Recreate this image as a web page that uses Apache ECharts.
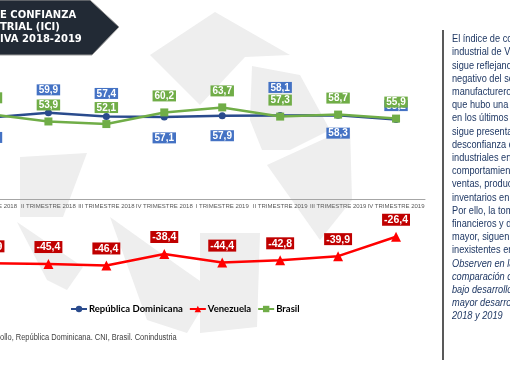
<!DOCTYPE html>
<html>
<head>
<meta charset="utf-8">
<script src="https://cdn.jsdelivr.net/npm/echarts@6/dist/echarts.min.js"></script>
<style>
  html, body { margin: 0; padding: 0; background: #fff; overflow: hidden; }
  #wrap { position: relative; width: 510px; height: 382px; overflow: hidden; }
  /* chart starts left of the window: the first quarter is cut off as in the slide */
  #chart { position: absolute; left: -39px; top: 0; width: 549px; height: 382px; }
</style>
</head>
<body>
<div id="wrap"><div id="chart"></div></div>
<script>
const quarters = ['I TRIMESTRE 2018', 'II TRIMESTRE 2018', 'III TRIMESTRE 2018', 'IV TRIMESTRE 2018',
    'I TRIMESTRE 2019', 'II TRIMESTRE 2019', 'III TRIMESTRE 2019', 'IV TRIMESTRE 2019']
const dominicana = [56.7, 59.9, 57.4, 57.1, 57.9, 58.1, 58.3, 55.2]
const venezuela = [-44.9, -45.4, -46.4, -38.4, -44.4, -42.8, -39.9, -26.4]
const brasil = [58.9, 53.9, 52.1, 60.2, 63.7, 57.3, 58.7, 55.9]

// where each blue label sits (above / below the point)
const rdLabelPos = ['bottom', 'top', 'top', 'bottom', 'bottom', 'top', 'bottom', 'top']
const rdLabelDist = [11, 14, 14, 12, 11, 19, 9, 5]

const sideText = [
    'El índice de confianza',
    'industrial de Venezuela',
    'sigue reflejando un saldo',
    'negativo del sector',
    'manufacturero, a pesar de',
    'que hubo una mejora',
    'en los últimos trimestres,',
    'sigue presentando',
    'desconfianza de los',
    'industriales en el',
    'comportamiento de las',
    'ventas, producción e',
    'inventarios en el país.',
    'Por ello, la toma de',
    'financieros y de',
    'mayor, siguen siendo',
    'inexistentes en el país.'
]
const sideItalic = [
    'Observen en la',
    'comparación con',
    'bajo desarrollo y',
    'mayor desarrollo',
    '2018 y 2019'
]

const OX = 39  // window x -> chart x
const fmt = v => v.toFixed(1).replace('.', ',')

function boxLabel(bg) {
    return {
        show: true,
        formatter: p => fmt(p.value),
        color: '#fff',
        fontWeight: 'bold',
        fontSize: 10,
        fontFamily: 'Liberation Sans',
        backgroundColor: bg,
        padding: [1, 2, 0, 2]
    }
}

let graphics = []

// faint watermark shapes
const shapes = [
    [[150, 55], [215, 12], [290, 55], [245, 57], [200, 105]],
    [[252, 66], [300, 75], [330, 130], [290, 150], [262, 150], [250, 120]],
    [[267, 165], [350, 127], [352, 200], [320, 240]],
    [[20, 157], [87, 153], [63, 217], [20, 217]],
    [[17, 222], [83, 267], [67, 290], [47, 280]],
    [[110, 217], [180, 267], [213, 290], [187, 333], [147, 320]],
    [[200, 233], [260, 233], [257, 327], [200, 333]]
]
shapes.forEach(pts => {
    graphics.push({ type: 'polygon', shape: { points: pts.map(p => [p[0] + OX, p[1]]) },
        style: { fill: '#eeeeee' }, z: -10, silent: true })
})

// title banner
graphics.push({
    type: 'polygon',
    shape: { points: [[0, 0], [90 + OX, 0], [119 + OX, 27], [92 + OX, 55], [0, 55]] },
    style: { fill: '#222a35', stroke: '#9a9a9a', lineWidth: 1 },
    z: 5
})
const titleLines = ['E CONFIANZA', 'TRIAL (ICI)', 'IVA 2018-2019']
titleLines.forEach((t, i) => {
    graphics.push({
        type: 'text', x: OX, y: 10 + i * 12, z: 6,
        style: { text: t, fill: '#fff', font: 'bold 10px "DejaVu Sans"' }
    })
})

// source line
graphics.push({
    type: 'text', x: OX, y: 333, scaleX: 0.88,
    style: { text: 'ollo, República Dominicana. CNI, Brasil. Conindustria', fill: '#404040',
        font: '8.5px "Liberation Sans"' }
})

// side panel
graphics.push({
    type: 'line', shape: { x1: 443 + OX, y1: 30, x2: 443 + OX, y2: 360 },
    style: { stroke: '#222', lineWidth: 1.5 }
})
sideText.concat(sideItalic).forEach((t, i) => {
    let italic = i >= sideText.length ? 'italic ' : ''
    graphics.push({
        type: 'text', x: 452 + OX, y: 33 + i * 13.2, scaleX: 0.8,
        style: { text: t, fill: '#1f3864', font: italic + '11.5px "Liberation Sans"' }
    })
})

let chart = echarts.init(document.getElementById('chart'))
chart.setOption({
    animation: false,
    backgroundColor: '#fff',
    graphic: graphics,
    grid: { left: 0, width: 464, top: 84, height: 201 },
    legend: {
        left: 70 + OX,
        top: 304,
        padding: 0,
        itemWidth: 16,
        itemHeight: 8,
        itemGap: 6,
        textStyle: { fontWeight: 'bold', fontSize: 9.5, color: '#000',
            fontFamily: 'Lato', padding: [0, 0, 0, -3] },
        data: ['República Dominicana', 'Venezuela', 'Brasil']
    },
    xAxis: {
        type: 'category',
        data: quarters,
        axisLine: { onZero: false, lineStyle: { color: '#a6a6a6', width: 1 } },
        offset: -86,
        axisTick: { show: false },
        axisLabel: { color: '#595959', fontSize: 6, margin: 4, interval: 0,
            fontFamily: 'Liberation Sans' }
    },
    yAxis: {
        type: 'value',
        min: -60,
        max: 80,
        show: false,
        splitLine: { show: false }
    },
    series: [
        {
            name: 'República Dominicana',
            type: 'line',
            data: dominicana.map((v, i) => ({
                value: v,
                label: Object.assign(boxLabel('#4472c4'), {
                    position: rdLabelPos[i],
                    distance: rdLabelDist[i]
                })
            })),
            symbol: 'circle',
            symbolSize: 7,
            itemStyle: { color: '#2a4b8d' },
            lineStyle: { color: '#2a4b8d', width: 2.5 }
        },
        {
            name: 'Venezuela',
            type: 'line',
            data: venezuela,
            symbol: 'triangle',
            symbolSize: 10,
            itemStyle: { color: '#ff0000' },
            lineStyle: { color: '#ff0000', width: 2.5 },
            label: Object.assign(boxLabel('#c00000'), { position: 'top', distance: 6, fontSize: 10.5 })
        },
        {
            name: 'Brasil',
            type: 'line',
            data: brasil,
            symbol: 'rect',
            symbolSize: 8,
            itemStyle: { color: '#70ad47' },
            lineStyle: { color: '#70ad47', width: 2.5 },
            label: Object.assign(boxLabel('#70ad47'), { position: 'top', distance: 7 })
        }
    ]
})
</script>
</body>
</html>
